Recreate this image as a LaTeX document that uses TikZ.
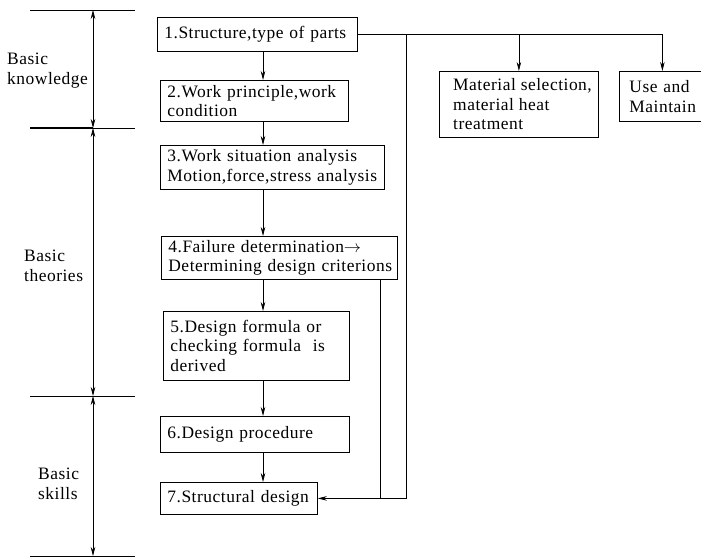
\documentclass[tikz,border=0pt]{standalone}
\usepackage{fontspec}
\setmainfont{Liberation Serif}[LetterSpace=3]
\usetikzlibrary{arrows.meta}
\begin{document}
\begin{tikzpicture}[
    x=1bp, y=-1bp,
    txt/.style={font=\fontsize{17.5}{19.5}\selectfont},
    box/.style={txt,draw,line width=0.8pt,anchor=north west,align=left,
      inner xsep=7bp,inner ysep=0pt},
    lbl/.style={txt,align=left,anchor=north west,inner sep=0pt},
    arr/.style={draw,line width=0.7pt,-{Stealth[length=9bp,width=4.5bp]}},
    ln/.style={draw,line width=0.7pt},
    dim/.style={draw,line width=0.7pt,{Stealth[length=9bp,width=4.5bp]}-{Stealth[length=9bp,width=4.5bp]}}
  ]
  \useasboundingbox (0,0) rectangle (701,558);
  %% main chain of steps
  \node[box,text width=186bp,minimum height=34bp] (b1) at (157,17) {1.Structure,type of parts};
  \node[box,text width=174bp,minimum height=41bp] (b2) at (160,80) {2.Work principle,work\\condition};
  \node[box,text width=210bp,minimum height=44bp] (b3) at (160,145) {3.Work situation analysis\\Motion,force,stress analysis};
  \node[box,text width=222bp,minimum height=43bp] (b4) at (161,236) {4.Failure determination$\rightarrow$\\Determining design criterions};
  \node[box,text width=172bp,minimum height=69bp] (b5) at (163,311) {5.Design formula or\\checking formula\ \ is\\derived};
  \node[box,text width=175bp,minimum height=36bp] (b6) at (160,416) {6.Design procedure};
  \node[box,text width=143bp,minimum height=32bp] (b7) at (160,482) {7.Structural design};
  %% side branches
  \node[box,inner xsep=0pt,minimum width=159bp,minimum height=66bp] (mat) at (439,71) {};
  \node[lbl,anchor=west] (matt) at ([xshift=14bp]mat.west) {Material selection,\\material heat\\treatment};
  \node[box,inner xsep=10bp,text width=66bp,minimum height=50bp] (use) at (619,71) {Use and\\Maintain};
  \coordinate (spine) at (263,0);
  \coordinate (fb) at (406,0);
  \coordinate (f4) at (380,0);
  \foreach \a/\b in {b1/b2,b2/b3,b3/b4,b4/b5,b5/b6,b6/b7}
    \draw[arr] (\a.south -| spine) -- (\b.north -| spine);
  \draw[arr] (b1.east) -| (use.north);
  \draw[arr] (b1.east -| mat.north) -- (mat.north);
  \draw[arr] (b1.east -| fb) |- (b7.east);
  \draw[ln] (b4.south -| f4) -- (b7.east -| f4);
  %% levels on the left
  \foreach \n/\y in {l0/10,l1/128,l2/396,l3/556}{
    \coordinate (\n a) at (30,\y);
    \coordinate (\n b) at (135,\y);
    \coordinate (\n m) at (93,\y);
    \draw[ln] (\n a) -- (\n b);
  }
  \draw[line width=1.4pt] (l1a) -- (l1m);
  \foreach \p/\q in {l0/l1,l1/l2,l2/l3}
    \draw[dim] (\p m) -- (\q m);
  \node[lbl] (k) at (7,53) {Basic\\knowledge};
  \node[lbl] (t) at (24,250) {Basic\\theories};
  \node[lbl] (s) at (38,468) {Basic\\skills};
\end{tikzpicture}
\end{document}
